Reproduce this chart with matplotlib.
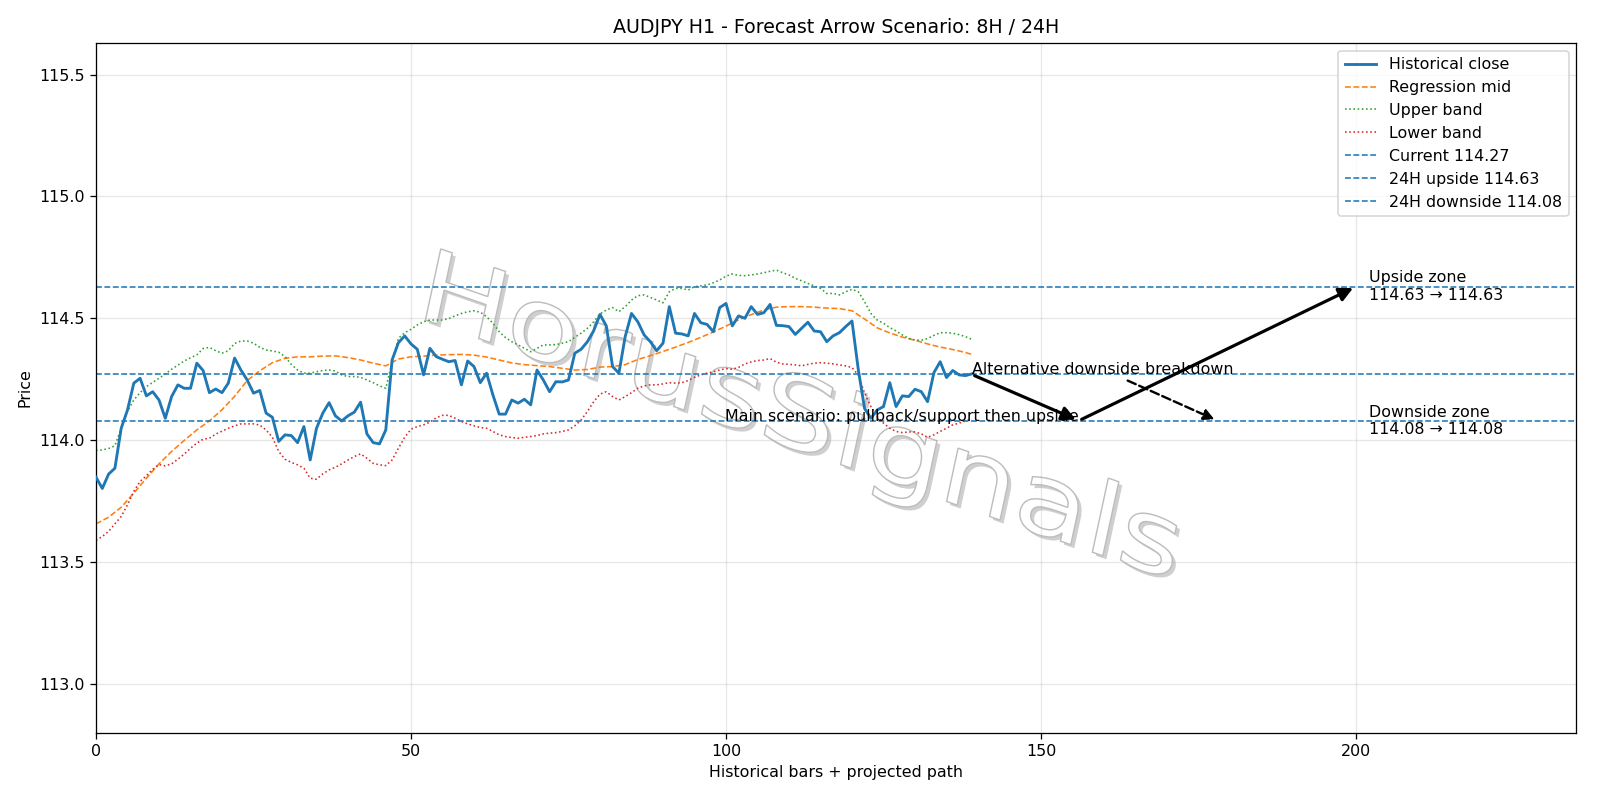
import matplotlib
matplotlib.use("Agg")
import matplotlib.pyplot as plt
from matplotlib.textpath import TextPath
from matplotlib.patches import PathPatch
from matplotlib.transforms import Affine2D
from matplotlib.font_manager import FontProperties

# ---------------- data ----------------
close = [113.848, 113.802, 113.861, 113.885, 114.049, 114.124, 114.234, 114.254, 114.182, 114.199,
         114.165, 114.090, 114.179, 114.227, 114.213, 114.213, 114.316, 114.286, 114.195, 114.210,
         114.195, 114.234, 114.337, 114.288, 114.247, 114.193, 114.204, 114.111, 114.094, 113.995,
         114.022, 114.019, 113.990, 114.056, 113.919, 114.049, 114.111, 114.154, 114.100, 114.079,
         114.100, 114.115, 114.156, 114.026, 113.990, 113.985, 114.042, 114.329, 114.400, 114.428,
         114.395, 114.373, 114.268, 114.377, 114.343, 114.332, 114.322, 114.327, 114.227, 114.325,
         114.302, 114.236, 114.275, 114.186, 114.107, 114.107, 114.165, 114.152, 114.168, 114.145,
         114.288, 114.247, 114.199, 114.240, 114.239, 114.247, 114.357, 114.373, 114.404, 114.449,
         114.516, 114.469, 114.302, 114.275, 114.425, 114.520, 114.486, 114.432, 114.404, 114.367,
         114.398, 114.548, 114.439, 114.436, 114.428, 114.520, 114.482, 114.475, 114.445, 114.544,
         114.561, 114.469, 114.510, 114.500, 114.548, 114.516, 114.523, 114.557, 114.471, 114.470,
         114.466, 114.434, 114.459, 114.484, 114.448, 114.445, 114.404, 114.428, 114.441, 114.466,
         114.489, 114.290, 114.130, 114.090, 114.124, 114.138, 114.236, 114.138, 114.182, 114.179,
         114.209, 114.199, 114.158, 114.277, 114.322, 114.257, 114.286, 114.268, 114.265, 114.272]

mid_x = [0, 2, 4, 6, 8, 10, 12, 14, 16, 18, 20, 22, 24, 26, 28, 30, 32, 34, 36, 38, 40, 42, 44,
         46, 48, 50, 52, 54, 56, 58, 60, 62, 64, 66, 68, 70, 72, 74, 76, 78, 80, 82, 84, 86, 88,
         90, 92, 94, 96, 98, 100, 102, 104, 106, 108, 110, 112, 114, 116, 118, 120, 122, 124, 126,
         128, 130, 132, 134, 136, 138, 139]
mid = [113.657, 113.684, 113.725, 113.783, 113.844, 113.903, 113.954, 113.999, 114.042, 114.079,
       114.125, 114.180, 114.245, 114.285, 114.318, 114.336, 114.342, 114.342, 114.345, 114.346,
       114.339, 114.329, 114.316, 114.305, 114.333, 114.342, 114.345, 114.349, 114.351, 114.352,
       114.349, 114.341, 114.329, 114.317, 114.310, 114.306, 114.302, 114.295, 114.288, 114.290,
       114.300, 114.302, 114.310, 114.331, 114.347, 114.364, 114.382, 114.401, 114.422, 114.444,
       114.468, 114.494, 114.515, 114.534, 114.546, 114.548, 114.548, 114.546, 114.542, 114.540,
       114.531, 114.497, 114.461, 114.440, 114.423, 114.410, 114.395, 114.382, 114.372, 114.360,
       114.352]

upper = [113.958, 113.960, 113.966, 113.977, 114.049, 114.118, 114.165, 114.195, 114.220, 114.237,
         114.254, 114.272, 114.291, 114.308, 114.325, 114.338, 114.350, 114.376, 114.381, 114.367,
         114.357, 114.367, 114.397, 114.407, 114.407, 114.398, 114.381, 114.370, 114.366, 114.361,
         114.343, 114.311, 114.288, 114.275, 114.275, 114.281, 114.286, 114.288, 114.284, 114.268,
         114.261, 114.261, 114.258, 114.247, 114.236, 114.223, 114.213, 114.320, 114.418, 114.441,
         114.455, 114.473, 114.486, 114.493, 114.493, 114.493, 114.499, 114.510, 114.520, 114.527,
         114.531, 114.525, 114.507, 114.480, 114.445, 114.421, 114.404, 114.391, 114.377, 114.363,
         114.377, 114.391, 114.391, 114.392, 114.398, 114.404, 114.422, 114.439, 114.459, 114.486,
         114.518, 114.534, 114.544, 114.527, 114.548, 114.575, 114.593, 114.596, 114.586, 114.575,
         114.564, 114.609, 114.623, 114.623, 114.616, 114.630, 114.633, 114.637, 114.646, 114.657,
         114.673, 114.682, 114.676, 114.675, 114.678, 114.682, 114.687, 114.693, 114.698, 114.687,
         114.678, 114.664, 114.654, 114.643, 114.633, 114.623, 114.602, 114.602, 114.596, 114.609,
         114.619, 114.609, 114.568, 114.520, 114.493, 114.480, 114.462, 114.448, 114.432, 114.418,
         114.411, 114.410, 114.417, 114.430, 114.441, 114.441, 114.439, 114.433, 114.425, 114.414]

lower = [113.589, 113.605, 113.626, 113.657, 113.687, 113.735, 113.790, 113.831, 113.854, 113.881,
         113.900, 113.895, 113.903, 113.922, 113.943, 113.967, 113.988, 114.004, 114.008, 114.025,
         114.037, 114.049, 114.059, 114.067, 114.067, 114.067, 114.062, 114.042, 114.012, 113.954,
         113.922, 113.909, 113.899, 113.885, 113.844, 113.840, 113.862, 113.878, 113.889, 113.903,
         113.919, 113.933, 113.944, 113.926, 113.905, 113.899, 113.896, 113.919, 113.967, 114.012,
         114.045, 114.056, 114.063, 114.074, 114.092, 114.102, 114.102, 114.090, 114.077, 114.067,
         114.059, 114.052, 114.049, 114.036, 114.022, 114.015, 114.011, 114.008, 114.012, 114.015,
         114.019, 114.026, 114.029, 114.031, 114.036, 114.042, 114.059, 114.083, 114.118, 114.158,
         114.189, 114.199, 114.179, 114.165, 114.179, 114.195, 114.213, 114.223, 114.227, 114.227,
         114.231, 114.236, 114.234, 114.236, 114.245, 114.258, 114.268, 114.275, 114.281, 114.288,
         114.294, 114.291, 114.299, 114.313, 114.321, 114.327, 114.329, 114.335, 114.320, 114.313,
         114.311, 114.309, 114.305, 114.311, 114.316, 114.318, 114.316, 114.313, 114.309, 114.305,
         114.298, 114.268, 114.193, 114.138, 114.097, 114.070, 114.049, 114.036, 114.031, 114.034,
         114.034, 114.026, 114.012, 114.022, 114.036, 114.049, 114.063, 114.070, 114.079, 114.086]

current_price = 114.27
upside_target = 114.63
downside_target = 114.08

# projected path: current -> support -> upside target
main_path_x = [139, 156, 200]
main_path_y = [114.27, 114.08, 114.63]
# alternative downside leg
alt_path_x = [163.3, 178]
alt_path_y = [114.25, 114.08]

title = "AUDJPY H1 - Forecast Arrow Scenario: 8H / 24H"
watermark = "HorusSignals"

# ---------------- plot ----------------
DPI = 1600 / 14
fig = plt.figure(figsize=(14, 7), dpi=DPI)
ax = fig.add_axes([0.06, 0.0841, 0.9253, 0.8623])

x_hist = list(range(len(close)))
ax.plot(x_hist, close, color="C0", lw=1.8, label="Historical close", zorder=3)
ax.plot(mid_x, mid, color="C1", lw=1.0, ls="--", label="Regression mid", zorder=2)
ax.plot(x_hist, upper, color="C2", lw=1.0, ls=":", label="Upper band", zorder=2)
ax.plot(x_hist, lower, color="C3", lw=1.0, ls=":", label="Lower band", zorder=2)

ax.axhline(current_price, color="C0", lw=1.0, ls="--", label=f"Current {current_price:.2f}")
ax.axhline(upside_target, color="C0", lw=1.0, ls="--", label=f"24H upside {upside_target:.2f}")
ax.axhline(downside_target, color="C0", lw=1.0, ls="--", label=f"24H downside {downside_target:.2f}")

# arrows
ax.annotate("", xy=(main_path_x[1], main_path_y[1]), xytext=(main_path_x[0], main_path_y[0]),
            arrowprops=dict(arrowstyle="-|>", lw=2.0, color="black", mutation_scale=18), zorder=5)
ax.annotate("", xy=(main_path_x[2], main_path_y[2]), xytext=(main_path_x[1], main_path_y[1]),
            arrowprops=dict(arrowstyle="-|>", lw=2.0, color="black", mutation_scale=18), zorder=5)
ax.annotate("", xy=(alt_path_x[1], alt_path_y[1]), xytext=(alt_path_x[0], alt_path_y[0]),
            arrowprops=dict(arrowstyle="-|>", lw=1.5, ls="--", color="black", mutation_scale=14), zorder=5)

ax.text(main_path_x[1], main_path_y[1], "Main scenario: pullback/support then upside",
        ha="right", va="baseline", fontsize=10, zorder=4)
ax.text(main_path_x[0], main_path_y[0], "Alternative downside breakdown",
        ha="left", va="baseline", fontsize=10, zorder=4)

ax.text(main_path_x[2] + 2, upside_target, f"Upside zone\n{upside_target:.2f} \u2192 {upside_target:.2f}",
        ha="left", va="center", fontsize=10)
ax.text(main_path_x[2] + 2, downside_target, f"Downside zone\n{downside_target:.2f} \u2192 {downside_target:.2f}",
        ha="left", va="center", fontsize=10)

ax.set_xlim(0, 235)
ax.set_ylim(112.80, 115.63)

# watermark: outlined, sheared glyph path (pixel-space affine)
tp = TextPath((0, 0), watermark, size=1, prop=FontProperties(family="DejaVu Sans"))
wm = Affine2D.from_values(116.6, -40.6, 21.0, 97.5, 414, 484)
shadow = PathPatch(tp, transform=wm + Affine2D().translate(3.5, -3.5),
                   facecolor="#cfcfcf", edgecolor="none", zorder=0.8)
face = PathPatch(tp, transform=wm, facecolor="white", edgecolor="#bdbdbd",
                 lw=0.9, zorder=0.9)
ax.add_artist(shadow)
ax.add_artist(face)
shadow.set_clip_path(ax.patch)
face.set_clip_path(ax.patch)

ax.set_title(title, fontsize=12)
ax.set_xlabel("Historical bars + projected path")
ax.set_ylabel("Price")
ax.grid(True, alpha=0.3)
ax.legend(loc="upper right")

fig.savefig("out.png", dpi=DPI)
